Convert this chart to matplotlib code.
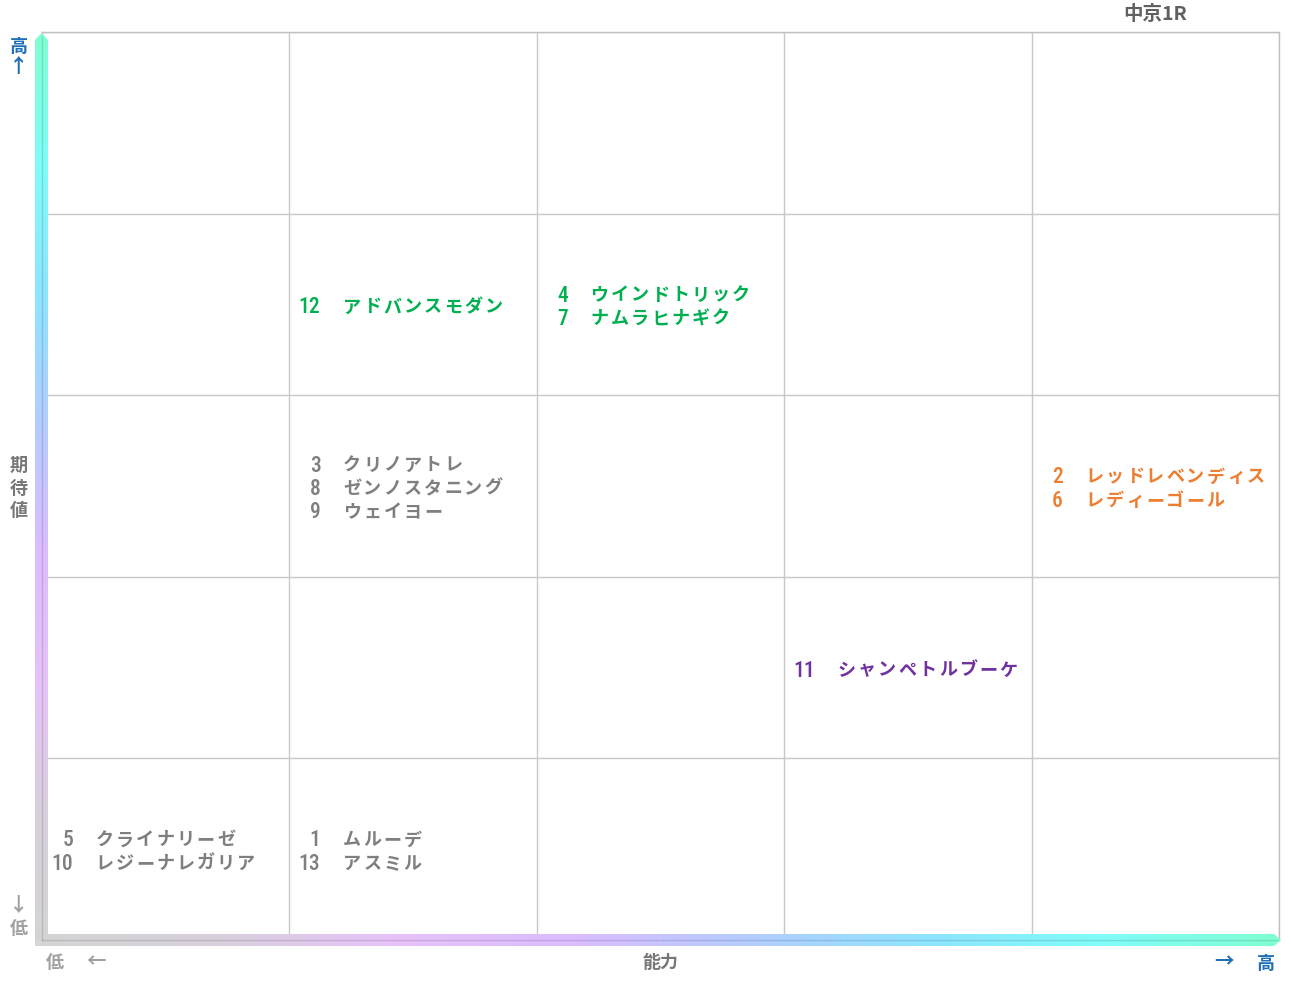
import numpy as np
import matplotlib
matplotlib.use("Agg")
import matplotlib.pyplot as plt
from matplotlib.colors import LinearSegmentedColormap
from matplotlib.patches import Polygon

plt.rcParams["font.family"] = ["Noto Sans CJK JP", "DejaVu Sans"]

# ── data ──────────────────────────────────────────────────────────────────
horse_nums = [5, 10, 1, 13, 3, 8, 9, 12, 4, 7, 11, 2, 6]
horse_names = ["クライナリーゼ", "レジーナレガリア", "ムルーデ", "アスミル",
               "クリノアトレ", "ゼンノスタニング", "ウェイヨー",
               "アドバンスモダン", "ウインドトリック", "ナムラヒナギク",
               "シャンペトルブーケ", "レッドレベンディス", "レディーゴール"]
ability = [0, 0, 1, 1, 1, 1, 1, 1, 2, 2, 3, 4, 4]      # column, low -> high
expect = [0, 0, 0, 0, 2, 2, 2, 3, 3, 3, 1, 2, 2]       # row, low -> high
group = ["gray", "gray", "gray", "gray", "gray", "gray", "gray",
         "green", "green", "green", "purple", "orange", "orange"]
title = "中京1R"
x_label = "能力"
y_label = "期待値"

palette = {"gray": "#7f7f7f", "green": "#00b050",
           "purple": "#7030a0", "orange": "#ed7d31"}

W, H = 1291, 983
fig = plt.figure(figsize=(W / 100, H / 100), dpi=100)
L, R, T, B = 42, 1279, 32, 940
ax = fig.add_axes([L / W, (H - B) / H, (R - L) / W, (B - T) / H])
ax.set_xlim(0, 5)
ax.set_ylim(0, 5)
ax.set_xticks(range(6))
ax.set_yticks(range(6))
ax.tick_params(length=0, labelbottom=False, labelleft=False)
ax.grid(True, color="#c8c8c8", lw=1)
for s in ax.spines.values():
    s.set_color("#c0c0c0")
    s.set_linewidth(1)

# ── horse labels ──────────────────────────────────────────────────────────
line_gap = 23.5   # px
char_adv = 20.2   # px
num_font = ["Liberation Sans Narrow", "Roboto Condensed", "DejaVu Sans"]
cells = {}
for i in range(len(horse_nums)):
    cells.setdefault((ability[i], expect[i]), []).append(i)

for (cx, cy), idx in cells.items():
    n = len(idx)
    for k, i in enumerate(idx):
        dy = ((n - 1) / 2 - k) * line_gap - 2.5
        col = palette[group[i]]
        ax.annotate(str(horse_nums[i]), (cx, cy + 0.5), xytext=(31, dy - 0.5),
                    textcoords="offset pixels", ha="right", va="center",
                    fontsize=15.5, fontweight="medium", color=col,
                    fontfamily=num_font)
        for j, ch in enumerate(horse_names[i]):
            ax.annotate(ch, (cx, cy + 0.5), xytext=(54 + j * char_adv + 8.7, dy),
                        textcoords="offset pixels", ha="center", va="center",
                        fontsize=13, fontweight="bold", color=col)

# ── gradient axis arrows ──────────────────────────────────────────────────
ov = fig.add_axes([0, 0, 1, 1], zorder=5)
ov.set_xlim(0, W)
ov.set_ylim(H, 0)
ov.axis("off")
ov.patch.set_alpha(0)

cmap = LinearSegmentedColormap.from_list(
    "ax", ["#d4d4d4", "#d8d0dc", "#e6c2f8", "#dcbcff", "#b4ccff",
           "#8ee4ff", "#80fcf8", "#7fffd4"])

# vertical bar: gray at bottom -> aquamarine at top
vpoly = Polygon([(35, 40), (41.5, 33), (48, 40), (48, 934), (35, 946)],
                closed=True, transform=ov.transData, fc="none", ec="none")
ov.add_patch(vpoly)
grad_v = np.linspace(1, 0, 300).reshape(-1, 1)
im = ov.imshow(grad_v, cmap=cmap, extent=(35, 48, 946, 33), aspect="auto",
               interpolation="bilinear")
im.set_clip_path(vpoly)

# horizontal bar: gray at left -> aquamarine at right
hpoly = Polygon([(35, 946), (48, 934), (1274, 934), (1281, 940), (1274, 946)],
                closed=True, transform=ov.transData, fc="none", ec="none")
ov.add_patch(hpoly)
grad_h = np.linspace(0, 1, 600).reshape(1, -1)
im2 = ov.imshow(grad_h, cmap=cmap, extent=(35, 1281, 946, 934), aspect="auto",
                interpolation="bilinear")
im2.set_clip_path(hpoly)

ov.plot([41.5, 41.5], [36, 940], color="k", alpha=0.12, lw=1)
ov.plot([42, 1278], [940, 940], color="k", alpha=0.12, lw=1)
ov.set_xlim(0, W)
ov.set_ylim(H, 0)

# ── axis captions ─────────────────────────────────────────────────────────
blue = "#1f6fb8"
lgray = "#a0a0a0"
dgray = "#777777"
ov.text(19, 46, "高", ha="center", va="center", fontsize=13, fontweight="bold", color=blue)
ov.text(19, 67, "↑", ha="center", va="center", fontsize=14, fontweight="bold", color=blue)
for k, ch in enumerate(y_label):
    ov.text(19, 465 + k * 23, ch, ha="center", va="center", fontsize=13,
            fontweight="bold", color=dgray)
ov.text(19, 906, "↓", ha="center", va="center", fontsize=14, fontweight="bold", color=lgray)
ov.text(19, 929, "低", ha="center", va="center", fontsize=13, fontweight="bold", color=lgray)
ov.text(55, 963, "低", ha="center", va="center", fontsize=13, fontweight="bold", color=lgray)
ov.text(96, 962, "←", ha="center", va="center", fontsize=14, fontweight="bold", color=lgray)
ov.text(660, 963, x_label, ha="center", va="center", fontsize=13, fontweight="bold", color=dgray)
ov.text(1224, 962, "→", ha="center", va="center", fontsize=14, fontweight="bold", color=blue)
ov.text(1266, 963, "高", ha="center", va="center", fontsize=13, fontweight="bold", color=blue)
ov.text(1155, 15, title, ha="center", va="center", fontsize=14, fontweight="bold", color="#606060")

fig.savefig("out.png", dpi=100)
